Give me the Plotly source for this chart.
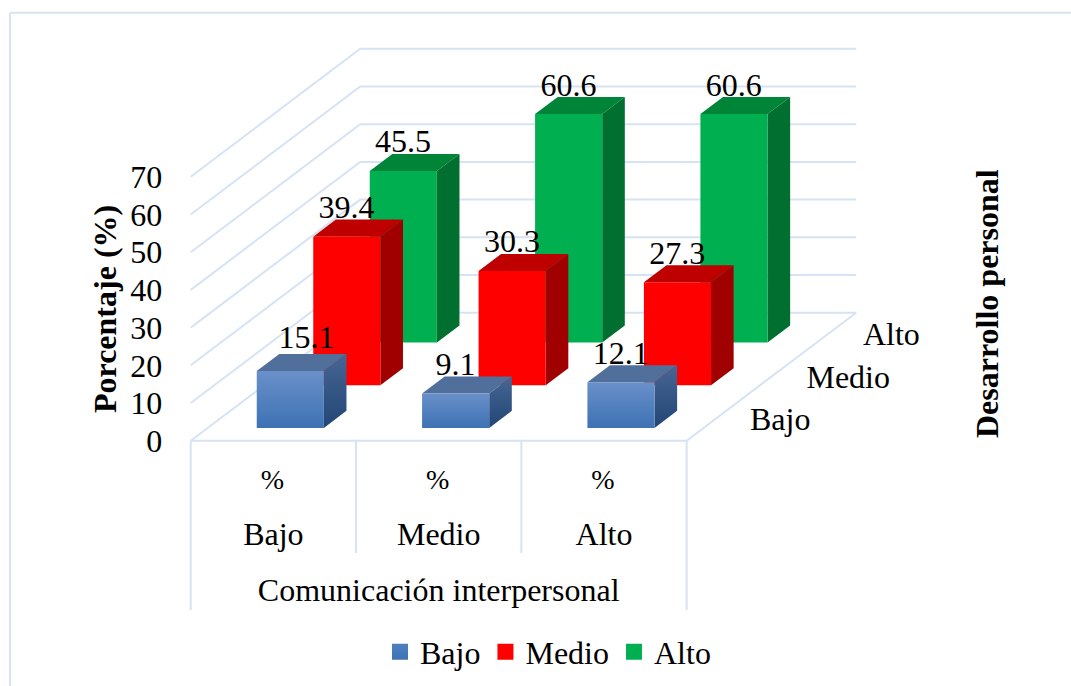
import plotly.graph_objects as go

# ---- data ----
categories = ["Bajo", "Medio", "Alto"]
series_names = ["Bajo", "Medio", "Alto"]
bajo_values = [15.1, 9.1, 12.1]
medio_values = [39.4, 30.3, 27.3]
alto_values = [45.5, 60.6, 60.6]
y_ticks = [0, 10, 20, 30, 40, 50, 60, 70]
sub_label = "%"
x_title = "Comunicación interpersonal"
y_title = "Porcentaje (%)"
z_title = "Desarrollo personal"

# ---- oblique projection of the chart's 3D box (category u, depth d, value v) ----
W, H = 1071, 686
X0, Y0 = 190.7, 440.7
CAT_W, DX, DY, V_PX = 165.33, 56.5, 42.67, 3.77
FONT = "Liberation Serif"
FS = 32
GRID = "#D6E3F5"
TXT = "#000000"


def px(u, d=0.0):
    return X0 + CAT_W * u + DX * d


def val(d, v):
    return v + d * DY / V_PX


def row(py):
    """value-axis coordinate of a page row, for text placed below or beside the box"""
    return (Y0 - py) / V_PX


def pap_x(p):
    return p / W


def pap_y(p):
    return 1 - p / H


fig = go.Figure()


def line(xs, ys):
    fig.add_trace(go.Scatter(x=xs, y=ys, mode="lines", line=dict(color=GRID, width=2),
                             showlegend=False, hoverinfo="skip"))


# walls and floor
for v in y_ticks:
    line([px(0, 0), px(0, 3), px(3, 3)], [val(0, v), val(3, v), val(3, v)])
line([px(0, 0), px(3, 0), px(3, 3)], [val(0, 0), val(0, 0), val(3, 0)])
# multi-level category separators
line([px(0)] * 2, [row(440.7), row(610)])
line([px(3)] * 2, [row(440.7), row(610)])
line([px(1)] * 2, [row(440.7), row(553)])
line([px(2)] * 2, [row(440.7), row(553)])


def poly(xs, ys, color=None, grad=None):
    kw = dict(fillgradient=dict(type="vertical", colorscale=grad)) if grad else dict(fillcolor=color)
    fig.add_trace(go.Scatter(x=xs + xs[:1], y=ys + ys[:1], mode="lines", fill="toself",
                             line=dict(width=0), showlegend=False, hoverinfo="skip", **kw))


styles = [
    dict(front=[[0, "#3D72B4"], [1, "#6A90C9"]], top="#506F9A", side=[[0, "#234674"], [1, "#466694"]]),
    dict(front="#FF0000", top="#BE0000", side="#A00000"),
    dict(front="#00B050", top="#008438", side="#006F30"),
]
all_values = [bajo_values, medio_values, alto_values]
U0, U1, D0, D1 = 0.297, 0.703, 0.30, 0.70

# bars, back row first so that nearer bars cover farther ones
for j in [2, 1, 0]:
    st = styles[j]
    for i, v in enumerate(all_values[j]):
        ua, ub, da, db = i + U0, i + U1, j + D0, j + D1
        fxs = [px(ua, da), px(ub, da), px(ub, da), px(ua, da)]
        fys = [val(da, 0), val(da, 0), val(da, v), val(da, v)]
        sxs = [px(ub, da), px(ub, db), px(ub, db), px(ub, da)]
        sys_ = [val(da, 0), val(db, 0), val(db, v), val(da, v)]
        txs = [px(ua, da), px(ub, da), px(ub, db), px(ua, db)]
        tys = [val(da, v), val(da, v), val(db, v), val(db, v)]
        poly(txs, tys, color=st["top"])
        if isinstance(st["side"], list):
            poly(sxs, sys_, grad=st["side"])
            poly(fxs, fys, grad=st["front"])
        else:
            poly(sxs, sys_, color=st["side"])
            poly(fxs, fys, color=st["front"])

# data labels
label_shift_px = {(0, 0): (5, -22.5)}
lx, ly, lt = [], [], []
for j in range(3):
    for i, v in enumerate(all_values[j]):
        ox, oy = label_shift_px.get((j, i), (-11.5, -18))
        lx.append(px(i + 0.5, j + 0.5) + ox)
        ly.append(val(j + 0.5, v) - oy / V_PX)
        lt.append(f"{v:.1f}")
fig.add_trace(go.Scatter(x=lx, y=ly, text=lt, mode="text", textposition="middle center",
                         textfont=dict(family=FONT, size=FS, color=TXT),
                         showlegend=False, hoverinfo="skip"))

# category labels
fig.add_trace(go.Scatter(x=[px(i + 0.5) - 1 for i in range(3)], y=[row(482)] * 3, text=[sub_label] * 3,
                         mode="text", textposition="middle center",
                         textfont=dict(family=FONT, size=FS - 4, color=TXT), showlegend=False, hoverinfo="skip"))
fig.add_trace(go.Scatter(x=[px(i + 0.5) for i in range(3)], y=[row(537)] * 3, text=categories,
                         mode="text", textposition="middle center",
                         textfont=dict(family=FONT, size=FS, color=TXT), showlegend=False, hoverinfo="skip"))
fig.add_trace(go.Scatter(x=[px(1.5)], y=[row(593)], text=[x_title],
                         mode="text", textposition="middle center",
                         textfont=dict(family=FONT, size=FS, color=TXT), showlegend=False, hoverinfo="skip"))
# depth labels
fig.add_trace(go.Scatter(x=[px(3, j + 0.5) + 35 for j in range(3)],
                         y=[val(j + 0.5, 0) - 3 / V_PX for j in range(3)],
                         text=series_names, mode="text", textposition="middle right",
                         textfont=dict(family=FONT, size=FS, color=TXT), showlegend=False, hoverinfo="skip"))

# legend entries
legend_colors = ["#4F81BD", "#FF0000", "#00B050"]
legend_shades = ["#3D72B4", "#FF0000", "#00B050"]
for name, c, shade in zip(series_names, legend_colors, legend_shades):
    fig.add_trace(go.Scatter(x=[None], y=[None], mode="markers", name=name,
                             marker=dict(symbol="square", size=17, color=c,
                                         gradient=dict(type="vertical", color=shade))))

fig.update_layout(
    width=W, height=H, autosize=False,
    margin=dict(l=0, r=0, t=0, b=0),
    paper_bgcolor="white", plot_bgcolor="white",
    font=dict(family=FONT, size=FS, color=TXT),
    xaxis=dict(range=[0, W], visible=False, fixedrange=True),
    yaxis=dict(range=[row(H), row(0)], anchor="free", position=pap_x(X0), side="left",
               tickvals=y_ticks, ticktext=[str(t) for t in y_ticks],
               showgrid=False, zeroline=False, showline=False,
               ticks="outside", ticklen=22, tickcolor="rgba(0,0,0,0)",
               tickfont=dict(family=FONT, size=FS, color=TXT), fixedrange=True),
    legend=dict(orientation="h", x=pap_x(380), xanchor="left", y=pap_y(652), yref="paper", yanchor="middle",
                font=dict(family=FONT, size=FS, color=TXT), bgcolor="rgba(0,0,0,0)",
                itemwidth=30, tracegroupgap=0),
    shapes=[
        dict(type="line", xref="paper", yref="paper", x0=pap_x(10), x1=1, y0=pap_y(12.7), y1=pap_y(12.7),
             line=dict(color=GRID, width=2)),
        dict(type="line", xref="paper", yref="paper", x0=pap_x(10), x1=pap_x(10), y0=0, y1=pap_y(12.7),
             line=dict(color=GRID, width=2)),
    ],
    annotations=[
        dict(text=f"<b>{y_title}</b>", textangle=-90, xref="paper", yref="paper", x=pap_x(105), y=pap_y(309),
             xanchor="center", yanchor="middle", showarrow=False, font=dict(family=FONT, size=FS, color=TXT)),
        dict(text=f"<b>{z_title}</b>", textangle=-90, xref="paper", yref="paper", x=pap_x(987), y=pap_y(303),
             xanchor="center", yanchor="middle", showarrow=False, font=dict(family=FONT, size=FS, color=TXT)),
    ],
)

fig.write_html("out.html", config=dict(displayModeBar=False),
               post_script="document.body.style.margin='0';")
